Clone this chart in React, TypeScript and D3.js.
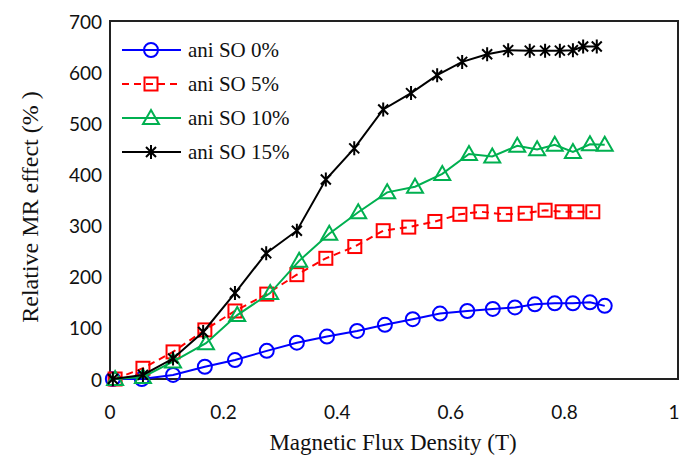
import React from "react";
import * as d3 from "d3";

const xTicks = [0, 0.2, 0.4, 0.6, 0.8, 1];
const yTicks = [0, 100, 200, 300, 400, 500, 600, 700];

const blueX = [0.005, 0.056, 0.111, 0.167, 0.22, 0.276, 0.329, 0.382, 0.435, 0.484, 0.533, 0.581, 0.629, 0.674, 0.713, 0.748, 0.783, 0.815, 0.845, 0.871];
const blueY = [0, 0, 8, 24, 37, 55, 71, 83, 94, 106, 117, 128, 133, 137, 140, 146, 148, 148, 150, 143];

const redX = [0.009, 0.058, 0.111, 0.167, 0.22, 0.276, 0.329, 0.38, 0.431, 0.481, 0.526, 0.572, 0.616, 0.653, 0.695, 0.731, 0.766, 0.796, 0.822, 0.85];
const redY = [0, 21, 53, 96, 133, 166, 204, 236, 259, 290, 297, 308, 322, 327, 322, 324, 330, 327, 327, 327];

const greenX = [0.009, 0.058, 0.111, 0.169, 0.224, 0.282, 0.333, 0.386, 0.437, 0.488, 0.537, 0.585, 0.632, 0.673, 0.717, 0.752, 0.783, 0.815, 0.845, 0.871];
const greenY = [0, 4, 34, 70, 125, 168, 231, 284, 326, 365, 376, 401, 440, 435, 456, 449, 458, 444, 459, 458];

const blackX = [0.005, 0.058, 0.111, 0.164, 0.22, 0.275, 0.329, 0.38, 0.43, 0.481, 0.53, 0.576, 0.62, 0.664, 0.701, 0.739, 0.766, 0.792, 0.815, 0.833, 0.857];
const blackY = [0, 8, 40, 92, 168, 246, 290, 390, 451, 527, 559, 594, 620, 635, 643, 642, 642, 642, 643, 650, 650];

const seriesNames = ["ani SO 0%", "ani SO 5%", "ani SO 10%", "ani SO 15%"];

type Marker = "circle" | "square" | "triangle" | "star";

const series = [
  { name: seriesNames[0], xs: blueX, ys: blueY, color: "#0000FF", marker: "circle" as Marker, dash: "" },
  { name: seriesNames[1], xs: redX, ys: redY, color: "#FF0000", marker: "square" as Marker, dash: "7,5" },
  { name: seriesNames[2], xs: greenX, ys: greenY, color: "#00B050", marker: "triangle" as Marker, dash: "" },
  { name: seriesNames[3], xs: blackX, ys: blackY, color: "#000000", marker: "star" as Marker, dash: "" },
];

function MarkerShape({ type, x, y, color }: { type: Marker; x: number; y: number; color: string }) {
  const sw = 2;
  if (type === "circle") return <circle cx={x} cy={y} r={7} fill="none" stroke={color} strokeWidth={sw} />;
  if (type === "square") return <rect x={x - 6.5} y={y - 6.5} width={13} height={13} fill="none" stroke={color} strokeWidth={sw} />;
  if (type === "triangle")
    return <path d={`M${x},${y - 8} L${x + 8},${y + 6} L${x - 8},${y + 6} Z`} fill="none" stroke={color} strokeWidth={sw} />;
  const r = 7;
  const d = 5;
  return (
    <path
      d={`M${x},${y - r} L${x},${y + r} M${x - d},${y - d} L${x + d},${y + d} M${x - d},${y + d} L${x + d},${y - d}`}
      stroke={color}
      strokeWidth={sw}
      fill="none"
    />
  );
}

export default function App() {
  const W = 681, H = 461;
  const x = d3.scaleLinear().domain([0, 1]).range([110, 678]);
  const y = d3.scaleLinear().domain([0, 700]).range([379, 21]);
  const serif = "'Liberation Serif', 'Times New Roman', serif";
  const sans = "Lato, 'Open Sans', 'Liberation Sans', sans-serif";

  return (
    <svg width={W} height={H} style={{ position: "absolute", left: 0, top: 0, background: "#fff" }}>
      <rect x={0} y={0} width={W} height={H} fill="#fff" />
      <rect x={x(0)} y={y(700)} width={x(1) - x(0)} height={y(0) - y(700)} fill="none" stroke="#222" strokeWidth={2} />
      {yTicks.map((t) => (
        <text key={t} x={102} y={y(t)} textAnchor="end" dominantBaseline="central" fontFamily={sans} fontSize={19} fill="#111">
          {t}
        </text>
      ))}
      {xTicks.map((t) => (
        <text key={t} x={Math.min(x(t), 674)} y={411} textAnchor="middle" dominantBaseline="central" fontFamily={sans} fontSize={19} fill="#111">
          {t}
        </text>
      ))}
      <text x={393} y={450} textAnchor="middle" fontFamily={serif} fontSize={23} fill="#111">
        Magnetic Flux Density (T)
      </text>
      <text transform={`translate(38,207) rotate(-90)`} textAnchor="middle" fontFamily={serif} fontSize={24} fill="#111">
        Relative MR effect (% )
      </text>
      {series.map((s) => {
        const pts: [number, number][] = s.xs.map((v, i) => [x(v), y(s.ys[i])]);
        const line = d3.line()(pts) || "";
        return (
          <g key={s.name}>
            <path d={line} fill="none" stroke={s.color} strokeWidth={2} strokeDasharray={s.dash || undefined} />
            {pts.map((p, i) => (
              <MarkerShape key={i} type={s.marker} x={p[0]} y={p[1]} color={s.color} />
            ))}
          </g>
        );
      })}
      {series.map((s, i) => {
        const ly = 50 + i * 34;
        return (
          <g key={"lg" + i}>
            <line x1={122} x2={181} y1={ly} y2={ly} stroke={s.color} strokeWidth={2} strokeDasharray={s.dash || undefined} />
            <MarkerShape type={s.marker} x={151} y={ly} color={s.color} />
            <text x={188} y={ly} dominantBaseline="central" fontFamily={serif} fontSize={21} fill="#111">
              {s.name}
            </text>
          </g>
        );
      })}
    </svg>
  );
}
